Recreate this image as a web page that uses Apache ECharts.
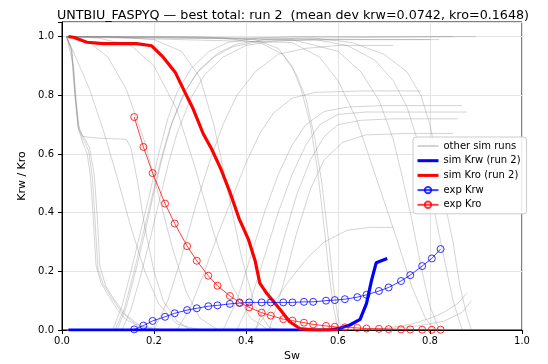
<!DOCTYPE html>
<html><head><meta charset="utf-8">
<script src="https://cdn.jsdelivr.net/npm/echarts@6/dist/echarts.min.js"></script>
<style>html,body{margin:0;padding:0;background:#fff}#c{width:548px;height:364px}</style>
</head><body><div id="c"></div>
<script>
// ---- experimental data ----
const expSw  = [0.157,0.177,0.197,0.224,0.245,0.272,0.293,0.318,0.338,0.365,0.386,0.407,0.434,0.454,0.481,0.501,0.526,0.546,0.574,0.593,0.615,0.642,0.662,0.689,0.71,0.737,0.757,0.783,0.804,0.823];
const expKrw = [0.002,0.015,0.031,0.045,0.057,0.068,0.074,0.081,0.084,0.089,0.092,0.094,0.094,0.094,0.094,0.094,0.096,0.096,0.100,0.102,0.105,0.112,0.120,0.133,0.145,0.167,0.187,0.218,0.244,0.276];
const expKro = [0.726,0.624,0.535,0.431,0.363,0.286,0.236,0.185,0.151,0.116,0.094,0.077,0.059,0.049,0.037,0.032,0.025,0.019,0.014,0.011,0.009,0.007,0.005,0.004,0.003,0.002,0.002,0.001,0.001,0.001];
// ---- best simulation (run 2) ----
const simKrwSw = [0.014,0.2,0.4,0.58,0.604,0.626,0.648,0.662,0.673,0.683,0.707];
const simKrw   = [0,0,0,0,0.006,0.017,0.036,0.091,0.17,0.229,0.244];
const simKroSw = [0.014,0.025,0.054,0.09,0.162,0.195,0.22,0.246,0.267,0.285,0.307,0.325,0.345,0.365,0.385,0.405,0.42,0.43,0.445,0.475,0.495,0.517,0.55,0.6];
const simKro   = [1.0,0.998,0.981,0.976,0.976,0.969,0.93,0.879,0.811,0.754,0.669,0.618,0.55,0.47,0.38,0.31,0.235,0.16,0.125,0.068,0.028,0.005,0.0,0.0];
// ---- other simulation runs ([Sw, k] pairs) ----
const otherKroRuns = [
  [[0.01,1],[0.02,0.96],[0.028,0.8],[0.035,0.69],[0.045,0.64],[0.055,0.6],[0.062,0.52],[0.068,0.38],[0.074,0.22],[0.085,0.16],[0.1,0.12],[0.12,0.07],[0.14,0.035],[0.17,0.01],[0.21,0]],
  [[0.01,1],[0.022,0.95],[0.03,0.78],[0.038,0.68],[0.05,0.65],[0.06,0.62],[0.07,0.53],[0.077,0.38],[0.082,0.22],[0.095,0.15],[0.115,0.1],[0.14,0.05],[0.17,0.015],[0.22,0]],
  [[0.01,1],[0.021,0.95],[0.029,0.79],[0.036,0.685],[0.048,0.645],[0.058,0.61],[0.066,0.52],[0.072,0.37],[0.078,0.21],[0.09,0.155],[0.108,0.11],[0.13,0.06],[0.16,0.02],[0.2,0]],
  [[0.01,1],[0.025,0.9],[0.035,0.7],[0.045,0.66],[0.07,0.655],[0.14,0.65],[0.15,0.62],[0.165,0.5],[0.18,0.35],[0.2,0.2],[0.22,0.1],[0.25,0.03],[0.28,0]],
  [[0.01,1],[0.03,0.93],[0.06,0.82],[0.09,0.68],[0.12,0.52],[0.15,0.35],[0.18,0.2],[0.21,0.09],[0.25,0.02],[0.3,0]],
  [[0.01,1],[0.06,0.98],[0.1,0.93],[0.14,0.82],[0.18,0.64],[0.21,0.46],[0.24,0.28],[0.27,0.13],[0.3,0.04],[0.34,0]],
  [[0.01,1],[0.08,0.995],[0.15,0.97],[0.2,0.9],[0.25,0.75],[0.29,0.55],[0.33,0.33],[0.37,0.15],[0.41,0.04],[0.45,0]],
  [[0.01,1],[0.1,1],[0.2,0.99],[0.26,0.95],[0.3,0.86],[0.33,0.7],[0.36,0.48],[0.39,0.25],[0.42,0.08],[0.45,0.01],[0.47,0]],
  [[0.01,1],[0.2,1],[0.35,0.995],[0.43,0.98],[0.48,0.94],[0.51,0.87],[0.53,0.79],[0.55,0.65],[0.565,0.5],[0.58,0.3],[0.59,0.15],[0.6,0.04],[0.61,0]],
  [[0.01,1],[0.3,1],[0.42,0.99],[0.47,0.96],[0.5,0.9],[0.52,0.82],[0.54,0.7],[0.555,0.55],[0.57,0.35],[0.58,0.2],[0.59,0.08],[0.6,0]],
  [[0.01,1],[0.55,0.995],[0.63,0.98],[0.7,0.94],[0.75,0.88],[0.78,0.8],[0.8,0.7],[0.815,0.58],[0.83,0.45],[0.85,0.3],[0.865,0.15],[0.88,0.05],[0.89,0]],
  [[0.01,1],[0.55,0.99],[0.62,0.97],[0.68,0.92],[0.72,0.85],[0.75,0.76],[0.77,0.66],[0.79,0.55],[0.81,0.4],[0.83,0.25],[0.85,0.1],[0.87,0]],
  [[0.01,1],[0.5,0.99],[0.6,0.95],[0.65,0.88],[0.69,0.78],[0.72,0.65],[0.74,0.52],[0.76,0.38],[0.78,0.22],[0.8,0.08],[0.82,0]],
  [[0.01,1],[0.5,0.98],[0.56,0.93],[0.6,0.85],[0.64,0.72],[0.67,0.58],[0.7,0.44],[0.73,0.3],[0.76,0.15],[0.79,0.04],[0.81,0]]
];
const otherKrwRuns = [
  [[0.01,0],[0.11,0],[0.13,0.08],[0.15,0.2],[0.17,0.33],[0.19,0.46],[0.21,0.6],[0.23,0.72],[0.25,0.81],[0.28,0.89],[0.32,0.95],[0.36,0.98],[0.42,0.995],[0.5,1],[0.9,1]],
  [[0.01,0],[0.12,0],[0.14,0.08],[0.16,0.2],[0.18,0.33],[0.2,0.47],[0.22,0.6],[0.24,0.71],[0.27,0.82],[0.3,0.89],[0.34,0.945],[0.38,0.975],[0.44,0.99],[0.52,0.995],[0.85,1]],
  [[0.01,0],[0.13,0],[0.15,0.07],[0.17,0.18],[0.19,0.3],[0.21,0.43],[0.23,0.56],[0.25,0.67],[0.28,0.79],[0.31,0.87],[0.35,0.93],[0.4,0.97],[0.46,0.985],[0.55,0.99],[0.8,0.99]],
  [[0.01,0],[0.115,0],[0.135,0.07],[0.155,0.19],[0.175,0.32],[0.195,0.45],[0.215,0.58],[0.235,0.69],[0.26,0.79],[0.29,0.87],[0.33,0.93],[0.37,0.965],[0.43,0.985],[0.6,0.99],[0.82,0.99]],
  [[0.01,0],[0.2,0],[0.23,0.1],[0.26,0.25],[0.29,0.42],[0.32,0.57],[0.35,0.7],[0.38,0.8],[0.42,0.88],[0.47,0.94],[0.53,0.96],[0.6,0.97],[0.72,0.97]],
  [[0.01,0],[0.25,0],[0.28,0.08],[0.31,0.2],[0.34,0.33],[0.37,0.45],[0.4,0.57],[0.43,0.67],[0.46,0.74],[0.5,0.79],[0.55,0.81],[0.65,0.815],[0.78,0.815]],
  [[0.01,0],[0.35,0],[0.38,0.1],[0.41,0.25],[0.44,0.4],[0.47,0.53],[0.5,0.63],[0.53,0.7],[0.57,0.745],[0.62,0.76],[0.7,0.765],[0.87,0.765]],
  [[0.01,0],[0.38,0],[0.41,0.1],[0.44,0.25],[0.47,0.4],[0.5,0.53],[0.53,0.63],[0.56,0.7],[0.6,0.735],[0.66,0.743],[0.88,0.743]],
  [[0.01,0],[0.42,0],[0.45,0.12],[0.48,0.3],[0.51,0.46],[0.54,0.58],[0.57,0.66],[0.6,0.7],[0.65,0.715],[0.72,0.72],[0.86,0.72]],
  [[0.01,0],[0.45,0],[0.48,0.15],[0.51,0.33],[0.54,0.48],[0.57,0.58],[0.61,0.64],[0.66,0.665],[0.75,0.67],[0.85,0.67]],
  [[0.01,0],[0.42,0],[0.45,0.07],[0.49,0.16],[0.53,0.24],[0.57,0.3],[0.62,0.34],[0.67,0.35],[0.72,0.35]],
  [[0.01,0],[0.6,0],[0.7,0.005],[0.76,0.02],[0.8,0.04],[0.83,0.06],[0.86,0.09],[0.88,0.125]],
  [[0.01,0],[0.55,0],[0.7,0.003],[0.78,0.015],[0.83,0.03],[0.87,0.06],[0.89,0.1]]
];

const FONT = 'DejaVu Sans';
const zip = (xs, ys) => xs.map((x, i) => [x, ys[i]]);
const series = [];
const grey = 'rgba(128,128,128,0.34)';
[...otherKroRuns, ...otherKrwRuns].forEach(c => series.push({
  name: 'other sim runs', type: 'line', data: c, symbol: 'none', silent: true,
  lineStyle: {color: grey, width: 1}, itemStyle: {color: grey}, z: 1
}));
series.push({name: 'sim Krw (run 2)', type: 'line', data: zip(simKrwSw, simKrw), symbol: 'none',
  lineStyle: {color: '#0000ff', width: 3.2}, itemStyle: {color: '#0000ff'}, z: 3});
series.push({name: 'sim Kro (run 2)', type: 'line', data: zip(simKroSw, simKro), symbol: 'none',
  lineStyle: {color: '#ff0000', width: 3.2}, itemStyle: {color: '#ff0000'}, z: 3});
series.push({name: 'exp Krw', type: 'line', data: zip(expSw, expKrw), symbol: 'circle', symbolSize: 7,
  lineStyle: {color: 'rgba(0,0,255,0.75)', width: 1},
  itemStyle: {color: 'rgba(255,255,255,0)', borderColor: 'rgba(0,0,255,0.8)', borderWidth: 1}, z: 4});
series.push({name: 'exp Kro', type: 'line', data: zip(expSw, expKro), symbol: 'circle', symbolSize: 7,
  lineStyle: {color: 'rgba(255,0,0,0.75)', width: 1},
  itemStyle: {color: 'rgba(255,255,255,0)', borderColor: 'rgba(255,0,0,0.8)', borderWidth: 1}, z: 4});

const chart = echarts.init(document.getElementById('c'), null, {renderer: 'canvas'});
chart.setOption({
  animation: false,
  backgroundColor: '#fff',
  title: {text: 'UNTBIU_FASPYQ — best total: run 2  (mean dev krw=0.0742, kro=0.1648)',
    left: 52, top: 4,
    textStyle: {fontFamily: FONT, fontSize: 12.7, fontWeight: 'normal', color: '#000'}},
  grid: {left: 62, right: 26, top: 22, bottom: 34, show: true, borderColor: '#000', borderWidth: 1,
    backgroundColor: 'transparent', outerBoundsMode: 'none', containLabel: false},
  legend: {
    data: [
      {name: 'other sim runs', itemStyle: {opacity: 0}},
      {name: 'sim Krw (run 2)', itemStyle: {opacity: 0}, lineStyle: {width: 3}},
      {name: 'sim Kro (run 2)', itemStyle: {opacity: 0}, lineStyle: {width: 3}},
      {name: 'exp Krw'},
      {name: 'exp Kro'}
    ],
    orient: 'vertical', left: 413, top: 137, padding: [4, 6, 4, 3],
    itemWidth: 21, itemHeight: 8, itemGap: 4.7,
    backgroundColor: 'rgba(255,255,255,0.85)', borderColor: '#cccccc', borderWidth: 1, borderRadius: 3,
    textStyle: {fontFamily: FONT, fontSize: 10, color: '#000'}
  },
  xAxis: {type: 'value', min: 0, max: 1, interval: 0.2,
    name: 'Sw', nameLocation: 'middle', nameGap: 21,
    nameTextStyle: {fontFamily: FONT, fontSize: 11, color: '#000'},
    axisLine: {show: true, lineStyle: {color: '#000', width: 1}},
    axisTick: {show: true, length: 4, lineStyle: {color: '#000'}},
    axisLabel: {fontFamily: FONT, fontSize: 10, color: '#000', margin: 6, formatter: v => v.toFixed(1)},
    splitLine: {show: true, lineStyle: {color: '#e4e4e4', width: 1}}},
  yAxis: {type: 'value', min: 0, max: 1.05, interval: 0.2,
    name: 'Krw / Kro', nameLocation: 'middle', nameGap: 29,
    nameTextStyle: {fontFamily: FONT, fontSize: 11, color: '#000'},
    axisLine: {show: true, lineStyle: {color: '#000', width: 1}},
    axisTick: {show: true, length: 4, lineStyle: {color: '#000'}},
    axisLabel: {fontFamily: FONT, fontSize: 10, color: '#000', margin: 8,
      formatter: v => (v > 1.001 ? '' : v.toFixed(1))},
    splitLine: {show: true, lineStyle: {color: '#e4e4e4', width: 1}}},
  series: series
});
</script></body></html>
